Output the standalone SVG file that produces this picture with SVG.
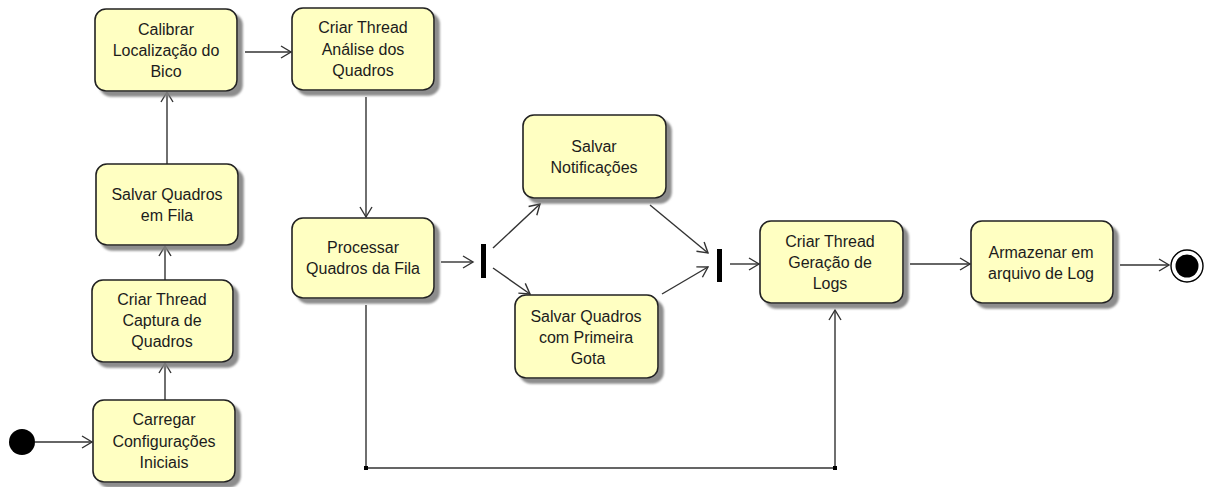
<svg xmlns="http://www.w3.org/2000/svg" width="1213" height="487" viewBox="0 0 1213 487">
<style>
.box{fill:#FFFFC2;stroke:#222;stroke-width:1.6;filter:url(#sh)}
.t{font-family:"Liberation Sans",Arial,sans-serif;font-size:16px;fill:#1c1c1c;text-anchor:middle}
.c{fill:none;stroke:#333;stroke-width:1.4;marker-end:url(#ah)}
</style>
<defs>
<filter id="sh" x="-10%" y="-10%" width="130%" height="130%">
<feGaussianBlur in="SourceAlpha" stdDeviation="1" result="b"/>
<feOffset in="b" dx="5" dy="5" result="o"/>
<feFlood flood-color="#808080" flood-opacity="0.9"/>
<feComposite in2="o" operator="in" result="s"/>
<feMerge><feMergeNode in="s"/><feMergeNode in="SourceGraphic"/></feMerge>
</filter>
<marker id="ah" markerUnits="userSpaceOnUse" markerWidth="14" markerHeight="16" viewBox="-12 -8 14 16" refX="0" refY="0" orient="auto">
<path d="M-10,-6 L0,0 L-10,6" fill="none" stroke="#333" stroke-width="1.4"/>
</marker>
</defs>
<g id="connectors">
<line class="c" x1="35" y1="442" x2="92" y2="442"/>
<line class="c" x1="165" y1="400" x2="165" y2="363"/>
<line class="c" x1="165" y1="280" x2="165" y2="246"/>
<line class="c" x1="167" y1="164" x2="167" y2="92"/>
<line class="c" x1="245" y1="52" x2="291" y2="52"/>
<line class="c" x1="366" y1="97" x2="366" y2="217"/>
<line class="c" x1="441" y1="262" x2="473" y2="262"/>
<line class="c" x1="493" y1="248" x2="540" y2="204"/>
<line class="c" x1="493" y1="268" x2="530" y2="294"/>
<line class="c" x1="650" y1="205" x2="708" y2="253"/>
<line class="c" x1="662" y1="294" x2="708" y2="267"/>
<line class="c" x1="730" y1="264" x2="759" y2="264"/>
<line class="c" x1="910" y1="264" x2="970" y2="264"/>
<line class="c" x1="1120" y1="265" x2="1169" y2="265"/>
<polyline class="c" points="366,305 366,468 835,468 835,310"/>
<rect x="364" y="466" width="4" height="4" fill="#000"/>
<rect x="833" y="466" width="4" height="4" fill="#000"/>
</g>
<g id="start"><circle cx="22" cy="442" r="13" fill="#000"/></g>
<g id="n_carregar"><rect class="box" x="93" y="400" width="142" height="82" rx="11"/>
<text class="t" x="164" y="425">Carregar</text><text class="t" x="164" y="447">Configurações</text><text class="t" x="164" y="468">Iniciais</text></g>
<g id="n_captura"><rect class="box" x="92" y="280" width="141" height="82" rx="11"/>
<text class="t" x="162" y="305">Criar Thread</text><text class="t" x="162" y="326">Captura de</text><text class="t" x="162" y="347">Quadros</text></g>
<g id="n_salvarfila"><rect class="box" x="96" y="164" width="142" height="81" rx="11"/>
<text class="t" x="167" y="200">Salvar Quadros</text><text class="t" x="167" y="221">em Fila</text></g>
<g id="n_calibrar"><rect class="box" x="95" y="9" width="142" height="82" rx="11"/>
<text class="t" x="166" y="35">Calibrar</text><text class="t" x="166" y="56">Localização do</text><text class="t" x="166" y="77">Bico</text></g>
<g id="n_analise"><rect class="box" x="292" y="8" width="142" height="82" rx="11"/>
<text class="t" x="363" y="33">Criar Thread</text><text class="t" x="363" y="55">Análise dos</text><text class="t" x="363" y="76">Quadros</text></g>
<g id="n_processar"><rect class="box" x="292" y="218" width="142" height="80" rx="11"/>
<text class="t" x="363" y="253">Processar</text><text class="t" x="363" y="274">Quadros da Fila</text></g>
<g id="fork"><rect x="481" y="244" width="5" height="34" fill="#000"/></g>
<g id="n_notif"><rect class="box" x="523" y="115" width="143" height="83" rx="11"/>
<text class="t" x="594" y="152">Salvar</text><text class="t" x="594" y="173">Notificações</text></g>
<g id="n_gota"><rect class="box" x="515" y="295" width="143" height="83" rx="11"/>
<text class="t" x="586" y="322">Salvar Quadros</text><text class="t" x="586" y="343">com Primeira</text><text class="t" x="588" y="364">Gota</text></g>
<g id="join"><rect x="717" y="249" width="5" height="33" fill="#000"/></g>
<g id="n_logs"><rect class="box" x="760" y="221" width="143" height="82" rx="11"/>
<text class="t" x="830" y="247">Criar Thread</text><text class="t" x="830" y="268">Geração de</text><text class="t" x="830" y="289">Logs</text></g>
<g id="n_armazenar"><rect class="box" x="971" y="221" width="142" height="82" rx="11"/>
<text class="t" x="1041" y="258">Armazenar em</text><text class="t" x="1041" y="279">arquivo de Log</text></g>
<g id="end"><circle cx="1187" cy="266" r="16" fill="#fff" stroke="#000" stroke-width="1.4"/><circle cx="1187" cy="266" r="11.5" fill="#000"/></g>
</svg>
